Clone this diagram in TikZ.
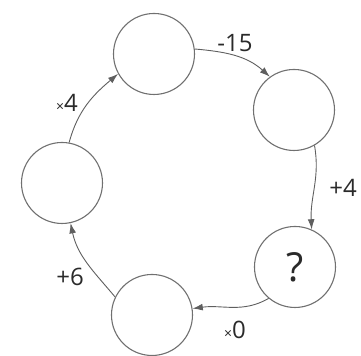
\documentclass[tikz,border=0pt]{standalone}
\usepackage{fontspec}
\setmainfont{Open Sans}
\usetikzlibrary{arrows.meta}
\definecolor{ink}{HTML}{2A2A2A}
\definecolor{rim}{HTML}{707070}
\tikzset{
  >={Latex[length=1.8mm,width=1.2mm]},
  slot/.style={circle, draw=rim, line width=.55pt, minimum size=40.5pt, inner sep=0pt, font=\fontsize{20}{20}\selectfont, text=ink},
  flow/.style={->, line width=.45pt, color=rim!85!black},
  op/.style={font=\fontsize{12}{13}\selectfont, text=ink}
}
\newcommand{\tms}{{\fontsize{7}{7}\selectfont ×}}

\begin{document}
\begin{tikzpicture}[x=.5pt,y=.5pt]
  \useasboundingbox (0,0) rectangle (361,356);

  \node[slot] (top) at (154,302) {};
  \node[slot] (right) at (294,246) {};
  \node[slot] (quest) at (295,89) {?};
  \node[slot] (bottom) at (152,41) {};
  \node[slot] (left) at (62,173) {};

  \draw[flow] (top.7) to[out=-5,in=138] (right.126);
  \draw[flow] (right.-60) to[out=-80,in=93] (quest.66);
  \draw[flow] (quest.-130) to[out=-150,in=8] (bottom.9);
  \draw[flow] (bottom.154) to[out=130,in=-78] (left.-78);
  \draw[flow] (left.80) to[out=75,in=-140] (top.-151);

  \node[op] (minus) at (235,313) {-15};
  \node[op] (plusfour) at (343,168) {+4};
  \node[op] (quad) at (67,253) {\tms4};
  \node[op] (plussix) at (70,79) {+6};
  \node[op] (zero) at (235,26) {\tms0};
\end{tikzpicture}
\end{document}
